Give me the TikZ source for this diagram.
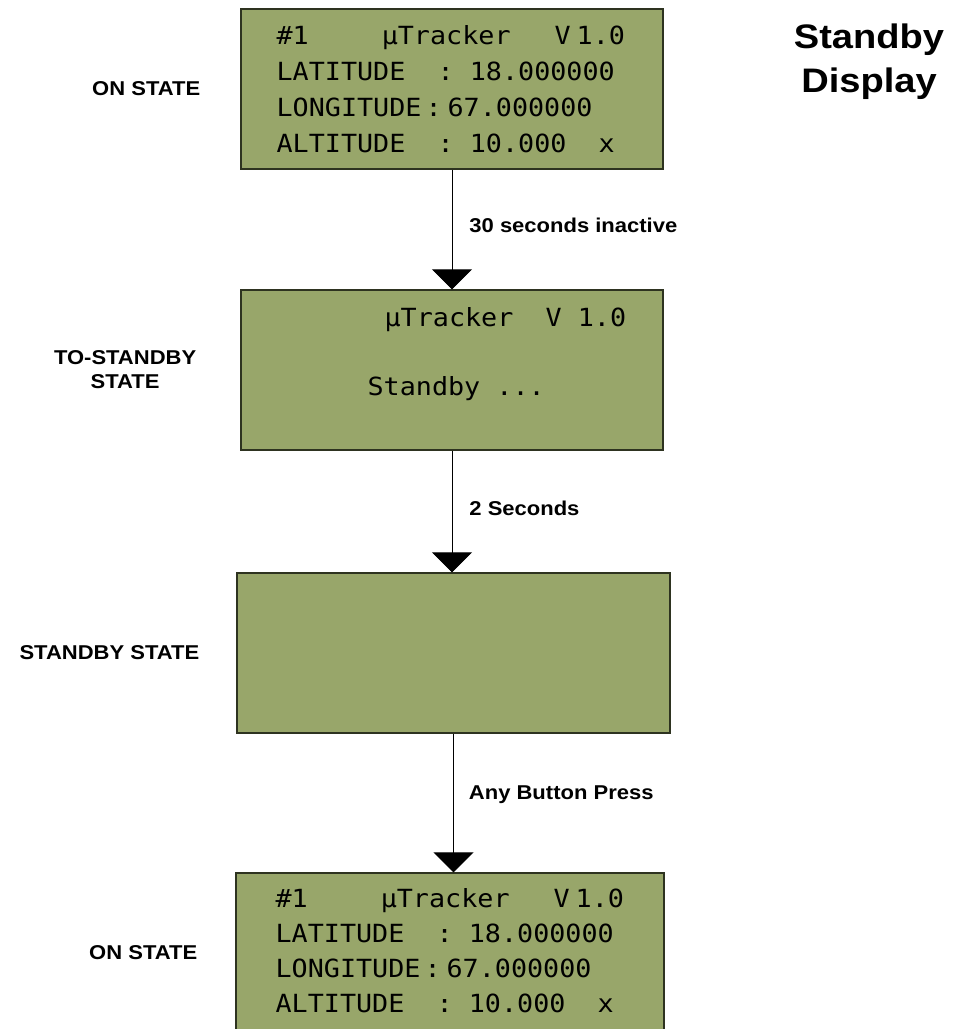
\documentclass[tikz,border=0pt]{standalone}
\usepackage{fontspec}
\usepackage{tikz}
\usetikzlibrary{arrows.meta,positioning,calc}
\newfontfamily\labelfont{Liberation Sans}[FakeStretch=1.1]
\newfontfamily\headfont{Liberation Sans}[FakeStretch=1.12]
\newfontfamily\lcdfont{DejaVu Sans Mono}[FakeStretch=1.07]
\definecolor{lcdGreen}{HTML}{98A66A}
\definecolor{lcdEdge}{HTML}{2E3320}

\begin{document}
\begin{tikzpicture}[x=1pt,y=-1pt,screen/.style={draw=lcdEdge,line width=1.2pt,fill=lcdGreen,inner sep=0,minimum height=160pt},lcd/.style={anchor=base west,inner sep=0,font=\lcdfont\fontsize{25}{30}\selectfont},state/.style={inner sep=0,align=center,font=\labelfont\bfseries\fontsize{20}{24}\selectfont},arr/.style={-{Triangle[width=40pt,length=20pt]},line width=0.9pt}]
    \useasboundingbox (0,0) rectangle (953,1029);
    \node[screen,minimum width=422pt] (b1) at (452,89) {};
    \node[screen,minimum width=422pt] (b2) at (452,370) {};
    \node[screen,minimum width=433pt] (b3) at (453.5,653) {};
    \node[screen,minimum width=428pt] (b4) at (450,953) {};
    % display contents
    \node[lcd] (b1a) at ($(b1.north west)+(36,36)$) {\#1\hspace{73pt}µTracker\hspace{44pt}V\hspace{6pt}1.0};
    \node[lcd] (b1b) at ($(b1.north west)+(36,72)$) {LATITUDE~~:~18.000000};
    \node[lcd] (b1c) at ($(b1.north west)+(36,108)$) {LONGITUDE\hspace{4pt}:\hspace{6pt}67.000000};
    \node[lcd] (b1d) at ($(b1.north west)+(36,144)$) {ALTITUDE~~:~10.000~~x};
    \node[lcd] (b2a) at ($(b2.north west)+(144,37)$) {µTracker~~V~1.0};
    \node[lcd] (b2b) at ($(b2.north west)+(127,106)$) {Standby~...};
    \node[lcd] (b4a) at ($(b4.north west)+(40,35)$) {\#1\hspace{73pt}µTracker\hspace{44pt}V\hspace{6pt}1.0};
    \node[lcd] (b4b) at ($(b4.north west)+(40,70)$) {LATITUDE~~:~18.000000};
    \node[lcd] (b4c) at ($(b4.north west)+(40,105)$) {LONGITUDE\hspace{4pt}:\hspace{6pt}67.000000};
    \node[lcd] (b4d) at ($(b4.north west)+(40,140)$) {ALTITUDE~~:~10.000~~x};
    % states
    \node[state,left=40pt of b1] (s1) {ON STATE};
    \node[state,left=44pt of b2] (s2) {TO-STANDBY\\STATE};
    \node[state,left=37pt of b3] (s3) {STANDBY STATE};
    \node[state,left=38pt of b4] (s4) {ON STATE};
    \node[align=center,font=\headfont\bfseries\fontsize{34}{44}\selectfont] (ttl) at (869,62) {Standby\\Display};
    % transitions
    \draw[arr] (b1.south)--node[state,midway,right=17pt,yshift=4pt]{30 seconds inactive}(b1.south |- b2.north);
    \draw[arr] (b2.south)--node[state,midway,right=17pt,yshift=3pt]{2 Seconds}(b2.south |- b3.north);
    \draw[arr] (b3.south)--node[state,midway,right=15pt,yshift=8pt]{Any Button Press}(b3.south |- b4.north);
  \end{tikzpicture}
\end{document}
